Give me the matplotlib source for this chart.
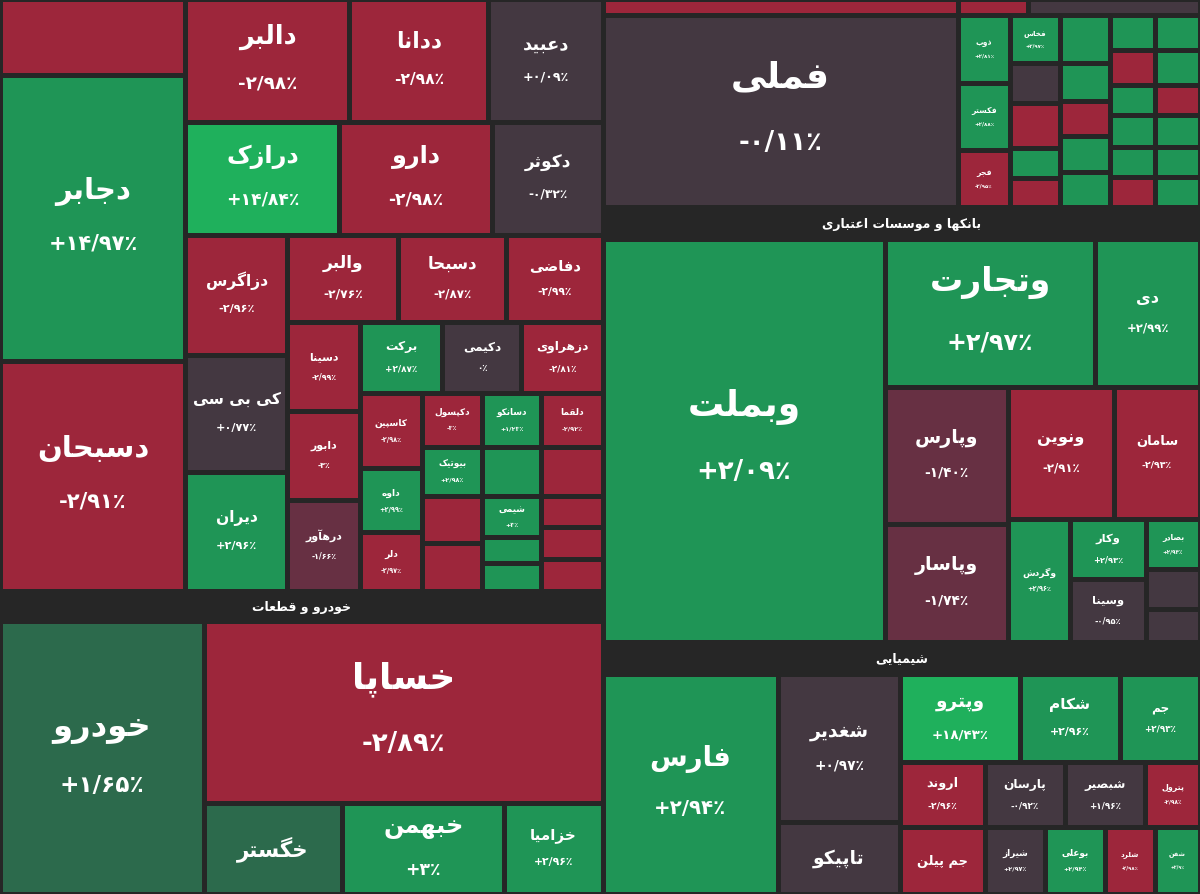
import matplotlib
matplotlib.use("Agg")
import matplotlib.pyplot as plt
from matplotlib.patches import Rectangle

plt.rcParams["font.family"] = ["DejaVu Sans", "Noto Sans"]

# ---------------------------------------------------------------------------
# Data: symbol, daily change, tone
# ---------------------------------------------------------------------------
NAMES = ["دجابر", "دسبحان", "دالبر", "ددانا", "دعبید", "درازک", "دارو", "دکوثر",
         "دزاگرس", "کی بی سی", "دیران", "والبر", "دسبحا", "دفاضی", "دسینا", "دابور",
         "درهآور", "برکت", "دکیمی", "دزهراوی", "کاسپین", "داوه", "دلر", "دکپسول",
         "دسانکو", "دلقما", "بیوتیک", "شیمی", "خودرو", "خساپا", "خگستر", "خبهمن",
         "خزامیا", "فملی", "ذوب", "فکستر", "فجر", "فخاس", "وبملت", "وتجارت", "دی",
         "وپارس", "وپاسار", "ونوین", "سامان", "وگردش", "وکار", "وسینا", "بصادر",
         "فارس", "شغدیر", "تاپیکو", "وپترو", "شکام", "جم", "اروند", "پارسان",
         "شبصیر", "پترول", "جم پیلن", "شیراز", "بوعلی", "شلرد", "شفن"]
CHANGES = ["+14/97", "-2/91", "-2/98", "-2/98", "+0/09", "+14/84", "-2/98", "-0/32",
           "-2/96", "+0/77", "+2/96", "-2/76", "-2/87", "-2/99", "-2/99", "-3",
           "-1/66", "+2/87", "0", "-2/81", "-2/98", "+2/99", "-2/97", "-3",
           "+1/23", "-2/92", "+2/98", "+3", "+1/65", "-2/89", "", "+3",
           "+2/96", "-0/11", "+2/81", "+2/88", "-2/95", "+2/97", "+2/09", "+2/97", "+2/99",
           "-1/40", "-1/74", "-2/91", "-2/93", "+2/96", "+2/93", "-0/95", "+2/94",
           "+2/94", "+0/97", "", "+18/43", "+2/96", "+2/93", "-2/96", "-0/92",
           "+1/96", "-2/98", "", "+2/97", "+2/94", "-2/98", "+2/9"]
TONES = ["g", "r", "r", "r", "k", "G", "r", "k",
         "r", "k", "g", "r", "r", "r", "r", "r",
         "m", "g", "k", "r", "r", "g", "r", "r",
         "g", "r", "g", "g", "d", "r", "d", "g",
         "g", "k", "g", "g", "r", "g", "g", "g", "g",
         "m", "m", "r", "r", "g", "g", "k", "g",
         "g", "k", "k", "G", "g", "g", "r", "k",
         "k", "r", "r", "k", "g", "r", "g"]

COLORS = {"r": "#9d263b", "g": "#1f9556", "G": "#1fb05c", "k": "#443841",
          "d": "#2c6a4c", "m": "#673043"}
BG = "#262626"

# Layout tree: ("H"/"V", weights, children); leaf = symbol, "-x" blank tile, "#text" header
tiny = ("H", [57, 57, 58], [("V", [46, 46], ["-r", "-r"]),
                            ("V", [40, 25, 27], ["شیمی", "-g", "-g"]),
                            ("V", [30, 31, 31], ["-r", "-r", "-r"])])
small = ("V", [53, 47, 92], [("H", [57, 57, 58], ["دکپسول", "دسانکو", "دلقما"]),
                             ("H", [57, 57, 58], ["بیوتیک", "-g", "-r"]),
                             tiny])
pharma_c = ("V", [71, 198], [("H", [81, 79, 81], ["برکت", "دکیمی", "دزهراوی"]),
                             ("H", [61, 180], [("V", [73, 62, 56], ["کاسپین", "داوه", "دلر"]),
                                               small])])
pharma_b = ("V", [87, 269], [("H", [111, 107, 96], ["والبر", "دسبحا", "دفاضی"]),
                             ("H", [73, 241], [("V", [89, 89, 91], ["دسینا", "دابور", "درهآور"]),
                                               pharma_c])])
pharma = ("H", [185, 415], [
    ("V", [76, 286, 230], ["-r", "دجابر", "دسبحان"]),
    ("V", [123, 113, 356], [("H", [161, 137, 113], ["دالبر", "ددانا", "دعبید"]),
                            ("H", [153, 152, 110], ["درازک", "دارو", "دکوثر"]),
                            ("H", [101, 314], [("V", [120, 117, 119], ["دزاگرس", "کی بی سی", "دیران"]),
                                               pharma_b])])])
auto = ("H", [203, 397], ["خودرو",
                          ("V", [182, 91], ["خساپا",
                                            ("H", [137, 160, 98], ["خگستر", "خبهمن", "خزامیا"])])])
metals = ("H", [355, 242], ["فملی",
    ("H", [52, 50, 50, 45, 45], [
        ("V", [68, 67, 57], ["ذوب", "فکستر", "فجر"]),
        ("V", [48, 40, 45, 30, 29], ["فخاس", "-k", "-r", "-g", "-r"]),
        ("V", [48, 38, 35, 36, 35], ["-g", "-g", "-r", "-g", "-g"]),
        ("V", [35, 35, 30, 32, 30, 30], ["-g", "-r", "-g", "-g", "-g", "-r"]),
        ("V", [35, 35, 30, 32, 30, 30], ["-g", "-g", "-r", "-g", "-g", "-g"])])])
banks = ("H", [282, 315], ["وبملت",
    ("V", [148, 255], [
        ("H", [210, 105], ["وتجارت", "دی"]),
        ("H", [123, 192], [
            ("V", [137, 118], ["وپارس", "وپاسار"]),
            ("V", [132, 123], [
                ("H", [106, 86], ["ونوین", "سامان"]),
                ("H", [62, 76, 54], ["وگردش",
                                     ("V", [60, 63], ["وکار", "وسینا"]),
                                     ("V", [50, 40, 33], ["بصادر", "-k", "-k"])])])])])])
chem = ("H", [175, 122, 300], ["فارس",
    ("V", [148, 72], ["شغدیر", "تاپیکو"]),
    ("V", [88, 65, 67], [
        ("H", [120, 100, 80], ["وپترو", "شکام", "جم"]),
        ("H", [85, 80, 80, 55], ["اروند", "پارسان", "شبصیر", "پترول"]),
        ("H", [85, 60, 60, 50, 45], ["جم پیلن", "شیراز", "بوعلی", "شلرد", "شفن"])])])
LAYOUT = ("H", [603, 597], [
    ("V", [592, 30, 273], [pharma, "#خودرو و قطعات", auto]),
    ("V", [16, 192, 32, 403, 32, 220], [("H", [355, 70, 172], ["-r", "-r", "-k"]),
                                        metals, "#بانکها و موسسات اعتباری", banks,
                                        "#شیمیایی", chem])])

# ---------------------------------------------------------------------------
# Minimal Persian shaping (presentation forms + reversal)
# ---------------------------------------------------------------------------
FORMS = {
    "ا": (0xFE8D, 0xFE8E), "آ": (0xFE81, 0xFE82), "د": (0xFEA9, 0xFEAA),
    "ذ": (0xFEAB, 0xFEAC), "ر": (0xFEAD, 0xFEAE), "ز": (0xFEAF, 0xFEB0),
    "ژ": (0xFB8A, 0xFB8B), "و": (0xFEED, 0xFEEE),
    "ب": (0xFE8F, 0xFE90, 0xFE91, 0xFE92), "پ": (0xFB56, 0xFB57, 0xFB58, 0xFB59),
    "ت": (0xFE95, 0xFE96, 0xFE97, 0xFE98), "ث": (0xFE99, 0xFE9A, 0xFE9B, 0xFE9C),
    "ج": (0xFE9D, 0xFE9E, 0xFE9F, 0xFEA0), "چ": (0xFB7A, 0xFB7B, 0xFB7C, 0xFB7D),
    "ح": (0xFEA1, 0xFEA2, 0xFEA3, 0xFEA4), "خ": (0xFEA5, 0xFEA6, 0xFEA7, 0xFEA8),
    "س": (0xFEB1, 0xFEB2, 0xFEB3, 0xFEB4), "ش": (0xFEB5, 0xFEB6, 0xFEB7, 0xFEB8),
    "ص": (0xFEB9, 0xFEBA, 0xFEBB, 0xFEBC), "ض": (0xFEBD, 0xFEBE, 0xFEBF, 0xFEC0),
    "ط": (0xFEC1, 0xFEC2, 0xFEC3, 0xFEC4), "ظ": (0xFEC5, 0xFEC6, 0xFEC7, 0xFEC8),
    "ع": (0xFEC9, 0xFECA, 0xFECB, 0xFECC), "غ": (0xFECD, 0xFECE, 0xFECF, 0xFED0),
    "ف": (0xFED1, 0xFED2, 0xFED3, 0xFED4), "ق": (0xFED5, 0xFED6, 0xFED7, 0xFED8),
    "ک": (0xFB8E, 0xFB8F, 0xFB90, 0xFB91), "گ": (0xFB92, 0xFB93, 0xFB94, 0xFB95),
    "ل": (0xFEDD, 0xFEDE, 0xFEDF, 0xFEE0), "م": (0xFEE1, 0xFEE2, 0xFEE3, 0xFEE4),
    "ن": (0xFEE5, 0xFEE6, 0xFEE7, 0xFEE8), "ه": (0xFEE9, 0xFEEA, 0xFEEB, 0xFEEC),
    "ی": (0xFBFC, 0xFBFD, 0xFBFE, 0xFBFF),
}


def shape(word):
    out = []
    for i, c in enumerate(word):
        f = FORMS.get(c)
        if not f:
            out.append(c)
            continue
        prev = word[i - 1] if i > 0 else None
        nxt = word[i + 1] if i + 1 < len(word) else None
        jp = prev in FORMS and len(FORMS[prev]) == 4
        jn = len(f) == 4 and nxt in FORMS
        k = 3 if (jp and jn) else 1 if jp else 2 if jn else 0
        out.append(chr(f[k]))
    return "".join(reversed(out))


def to_fa(s):
    return "".join(chr(0x06F0 + int(c)) if c.isdigit() else c for c in s) + "٪"


W, H = 1200, 895
fig = plt.figure(figsize=(12, 8.95), dpi=100, facecolor=BG)
ax = fig.add_axes([0, 0, 1, 1])
ax.set_xlim(0, W)
ax.set_ylim(H, 0)
ax.axis("off")

info = {n: (c, t) for n, c, t in zip(NAMES, CHANGES, TONES)}
GAP = 2.5


def draw(node, x0, y0, x1, y1):
    if isinstance(node, tuple):
        kind, weights, kids = node
        tot = sum(weights)
        pos = x0 if kind == "H" else y0
        span = (x1 - x0) if kind == "H" else (y1 - y0)
        for w, kid in zip(weights, kids):
            step = span * w / tot
            if kind == "H":
                draw(kid, pos, y0, pos + step, y1)
            else:
                draw(kid, x0, pos, x1, pos + step)
            pos += step
        return
    if node.startswith("#"):
        ax.text((x0 + x1) / 2, (y0 + y1) / 2, shape(node[1:]), color="white",
                fontsize=9, fontweight="bold", ha="center", va="center")
        return
    if node.startswith("-"):
        tone, chg, name = node[1], "", ""
    else:
        chg, tone = info[node]
        name = node
    w, h = x1 - x0 - 2 * GAP, y1 - y0 - 2 * GAP
    ax.add_patch(Rectangle((x0 + GAP, y0 + GAP), w, h, color=COLORS[tone], lw=0))
    if not name:
        return
    fs = min(min(w / 6.2, h / 3.6) * 0.72, 26)
    px = fs / 0.72
    cx, cy = (x0 + x1) / 2, (y0 + y1) / 2
    if chg:
        ax.text(cx, cy - px * 0.95, shape(name), color="white", fontsize=fs,
                fontweight="bold", ha="center", va="center")
        ax.text(cx, cy + px * 0.85, to_fa(chg), color="white", fontsize=fs * 0.72,
                fontweight="bold", ha="center", va="center")
    else:
        ax.text(cx, cy, shape(name), color="white", fontsize=fs,
                fontweight="bold", ha="center", va="center")


draw(LAYOUT, 0, 0, W, H)
fig.savefig("out.png", dpi=100, facecolor=BG)
